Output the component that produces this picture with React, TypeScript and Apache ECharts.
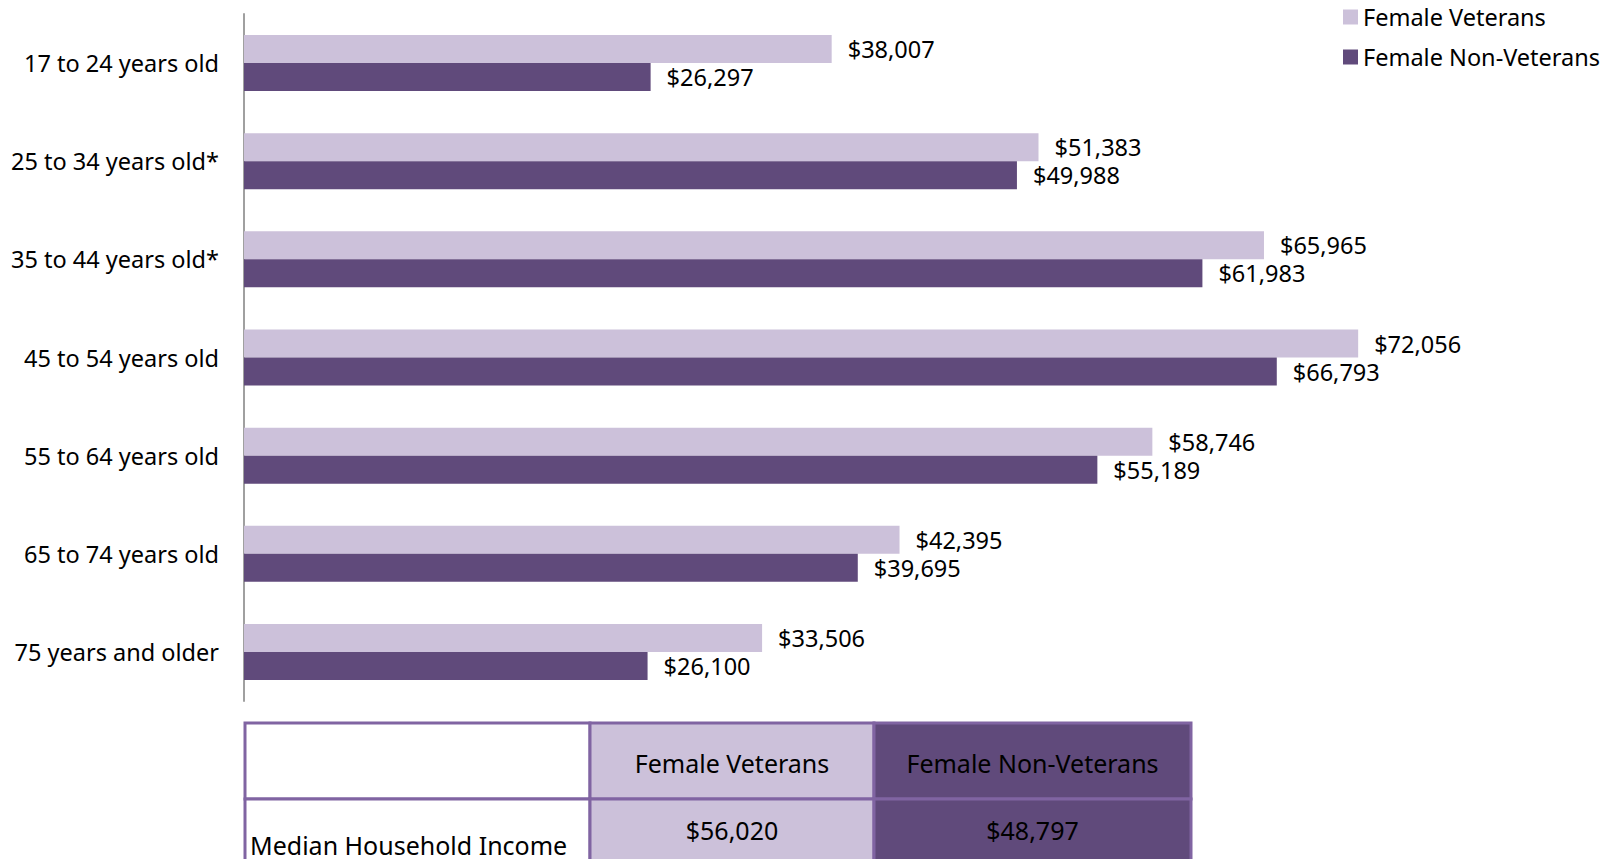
import React, { useEffect, useRef } from "react";
import * as echarts from "echarts";

const categories = [
  "17 to 24 years old",
  "25 to 34 years old*",
  "35 to 44 years old*",
  "45 to 54 years old",
  "55 to 64 years old",
  "65 to 74 years old",
  "75 years and older",
];
const seriesNames = ["Female Veterans", "Female Non-Veterans"];
const veterans = [38007, 51383, 65965, 72056, 58746, 42395, 33506];
const nonVeterans = [26297, 49988, 61983, 66793, 55189, 39695, 26100];
const tableRowLabel = "Median Household Income";
const tableValues = [56020, 48797];

const LIGHT = "#CCC1DA";
const DARK = "#604A7B";
const BORDER = "#8064A2";
const FONT = "Noto Sans";
const FS = 23.5;

const fmt = (v: number) => "$" + v.toLocaleString("en-US");

export default function App() {
  const ref = useRef<HTMLDivElement>(null);
  useEffect(() => {
    if (!ref.current) return;
    const chart = echarts.init(ref.current, undefined, { renderer: "svg" });

    const colX = [245, 590, 874, 1191];
    const rowY = [723, 799, 880];
    const fills = ["#FFFFFF", LIGHT, DARK];
    const cells: any[] = [];
    for (let r = 0; r < 2; r++) {
      for (let c = 0; c < 3; c++) {
        cells.push({
          type: "rect",
          shape: { x: colX[c], y: rowY[r], width: colX[c + 1] - colX[c], height: rowY[r + 1] - rowY[r] },
          style: { fill: fills[c], stroke: BORDER, lineWidth: 3 },
        });
      }
    }
    const texts: any[] = [];
    for (let c = 1; c < 3; c++) {
      const cx = (colX[c] + colX[c + 1]) / 2;
      texts.push({
        type: "text",
        x: cx,
        y: 763,
        style: { text: seriesNames[c - 1], fill: "#000", font: `25px "${FONT}"`, align: "center", verticalAlign: "middle" },
      });
      texts.push({
        type: "text",
        x: cx,
        y: 830,
        style: { text: fmt(tableValues[c - 1]), fill: "#000", font: `25px "${FONT}"`, align: "center", verticalAlign: "middle" },
      });
    }
    texts.push({
      type: "text",
      x: 250,
      y: 845,
      style: { text: tableRowLabel, fill: "#000", font: `25px "${FONT}"`, align: "left", verticalAlign: "middle" },
    });

    const labelOpt = {
      show: true,
      position: "right",
      distance: 16,
      fontSize: FS,
      color: "#000",
      fontFamily: FONT,
      formatter: (p: any) => fmt(p.value),
    };

    chart.setOption({
      animation: false,
      backgroundColor: "#FFFFFF",
      textStyle: { fontFamily: FONT },
      legend: {
        orient: "vertical",
        left: 1343,
        top: 5,
        padding: 0,
        itemWidth: 15,
        itemHeight: 15,
        itemGap: 16,
        icon: "rect",
        data: seriesNames,
        textStyle: { fontSize: FS, color: "#000", fontFamily: FONT },
      },
      grid: { left: 244, top: 14, height: 687, width: 1237 },
      xAxis: {
        type: "value",
        min: 0,
        max: 80000,
        show: false,
        splitLine: { show: false },
      },
      yAxis: {
        type: "category",
        data: categories,
        inverse: true,
        axisLine: { show: true, lineStyle: { color: "#A0A0A0", width: 2 } },
        axisTick: { show: false },
        splitLine: { show: false },
        axisLabel: { fontSize: FS, color: "#000", margin: 25, fontFamily: FONT, padding: [0, 0, 4, 0] },
      },
      series: [
        {
          name: seriesNames[0],
          type: "bar",
          data: veterans,
          barWidth: 28,
          barGap: "0%",
          itemStyle: { color: LIGHT },
          label: labelOpt,
        },
        {
          name: seriesNames[1],
          type: "bar",
          data: nonVeterans,
          barWidth: 28,
          barGap: "0%",
          itemStyle: { color: DARK },
          label: labelOpt,
        },
      ],
      graphic: [...cells, ...texts],
    });
    return () => chart.dispose();
  }, []);
  return (
    <div
      ref={ref}
      style={{ position: "fixed", left: 0, top: 0, width: 1615, height: 859, background: "#fff" }}
    />
  );
}
